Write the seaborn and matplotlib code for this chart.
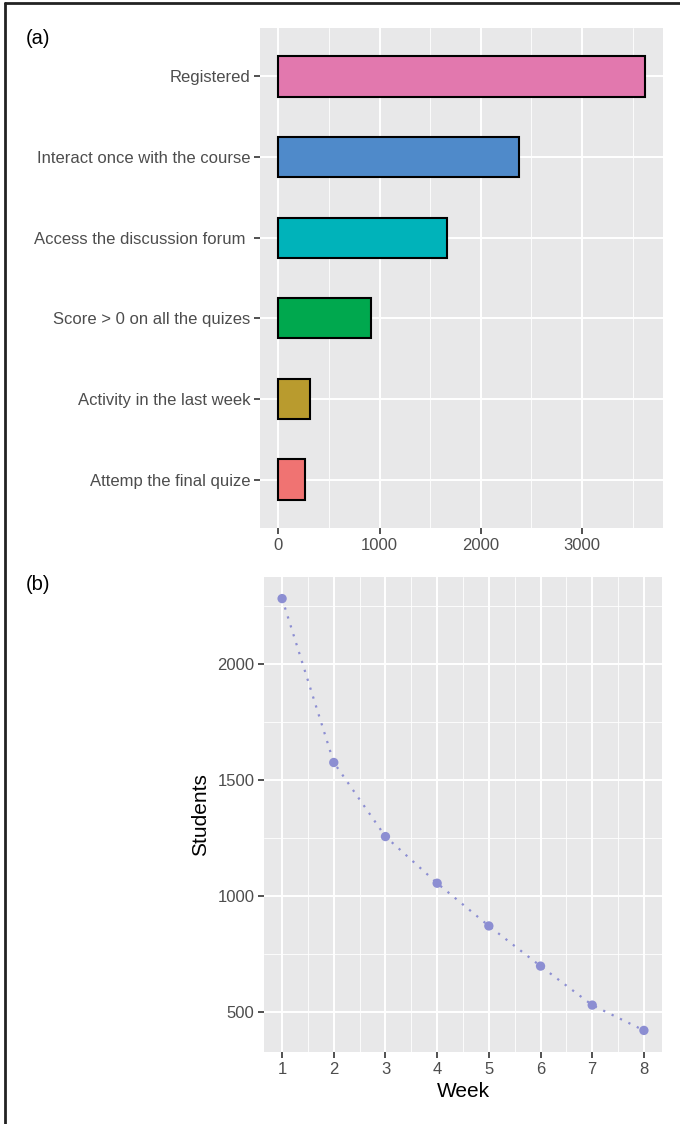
import matplotlib
matplotlib.use("Agg")
import matplotlib.pyplot as plt
from matplotlib.lines import Line2D
from matplotlib.ticker import MultipleLocator
import seaborn as sns
import pandas as pd

# Panel (a): engagement funnel
stages = [
    "Registered",
    "Interact once with the course",
    "Access the discussion forum ",
    "Score > 0 on all the quizes",
    "Activity in the last week",
    "Attemp the final quize",
]
stage_counts = [3620, 2378, 1668, 920, 310, 262]
stage_colors = ["#E278AE", "#4F8ACA", "#00B3BA", "#00A84E", "#B99B2E", "#F07372"]

# Panel (b): students still active per week
weeks = [1, 2, 3, 4, 5, 6, 7, 8]
students = [2281, 1575, 1256, 1055, 871, 698, 530, 421]

W, H = 680, 1124
sns.set_theme(style="darkgrid", rc={
    "axes.facecolor": "#E8E8E9",
    "grid.color": "white",
    "axes.edgecolor": "none",
})
plt.rcParams["font.family"] = ["Liberation Sans", "DejaVu Sans"]

fig = plt.figure(figsize=(W / 100, H / 100), dpi=100)


def px_axes(left, top, right, bottom):
    return fig.add_axes([left / W, 1 - bottom / H, (right - left) / W, (bottom - top) / H])


def style_axes(ax):
    ax.grid(which="major", color="white", linewidth=1.4)
    ax.grid(which="minor", color="white", linewidth=0.6)
    ax.tick_params(which="major", length=4, width=1.2, color="#333333",
                   labelcolor="#4D4D4D", labelsize=12, pad=3, direction="out",
                   bottom=True, left=True)
    ax.tick_params(which="minor", length=0)
    ax.set_axisbelow(True)
    for s in ax.spines.values():
        s.set_visible(False)


# ---- (a) horizontal bars ----
ax1 = px_axes(260, 28, 663, 528)
df_a = pd.DataFrame({"stage": stages, "count": stage_counts})
sns.barplot(data=df_a, x="count", y="stage", hue="stage", order=stages,
            palette=stage_colors, orient="h", width=0.5, edgecolor="black",
            linewidth=1.5, legend=False, ax=ax1, saturation=1)
xmax = max(stage_counts)
ax1.set_xlim(-0.05 * xmax, 1.05 * xmax)
ax1.set_ylim(len(stages) - 0.4, -0.6)
ax1.xaxis.set_major_locator(MultipleLocator(1000))
ax1.xaxis.set_minor_locator(MultipleLocator(500))
ax1.set_xlabel("")
ax1.set_ylabel("")
style_axes(ax1)
ax1.grid(which="minor", axis="y", visible=False)

# ---- (b) weekly students ----
ax2 = px_axes(264, 577, 662, 1052)
df_b = pd.DataFrame({"Week": weeks, "Students": students})
pt_color = "#8C8ED2"
sns.lineplot(data=df_b, x="Week", y="Students", color=pt_color, linestyle=(0, (1, 3.2)),
             linewidth=1.6, ax=ax2)
sns.scatterplot(data=df_b, x="Week", y="Students", color=pt_color, s=45,
                edgecolor="none", ax=ax2, zorder=3)
lo, hi = min(students), max(students)
ax2.set_ylim(lo - 0.05 * (hi - lo), hi + 0.05 * (hi - lo))
ax2.set_xlim(min(weeks) - 0.05 * 7, max(weeks) + 0.05 * 7)
ax2.xaxis.set_major_locator(MultipleLocator(1))
ax2.xaxis.set_minor_locator(MultipleLocator(0.5))
ax2.yaxis.set_major_locator(MultipleLocator(500))
ax2.yaxis.set_minor_locator(MultipleLocator(250))
style_axes(ax2)
ax2.set_xlabel("Week", fontsize=15, color="black", labelpad=4)
ax2.set_ylabel("Students", fontsize=15, color="black", labelpad=5)

# panel tags and frame lines
fig.text(26 / W, 1 - 38 / H, "(a)", fontsize=14.5, color="black", va="center", ha="left")
fig.text(26 / W, 1 - 584 / H, "(b)", fontsize=14.5, color="black", va="center", ha="left")
fig.add_artist(Line2D([4.5 / W, 4.5 / W], [0, 1 - 3 / H], transform=fig.transFigure,
                      color="#222222", linewidth=2))
fig.add_artist(Line2D([4.5 / W, 1], [1 - 3 / H, 1 - 3 / H], transform=fig.transFigure,
                      color="#222222", linewidth=2))

fig.savefig("out.png", dpi=100, facecolor="white")
